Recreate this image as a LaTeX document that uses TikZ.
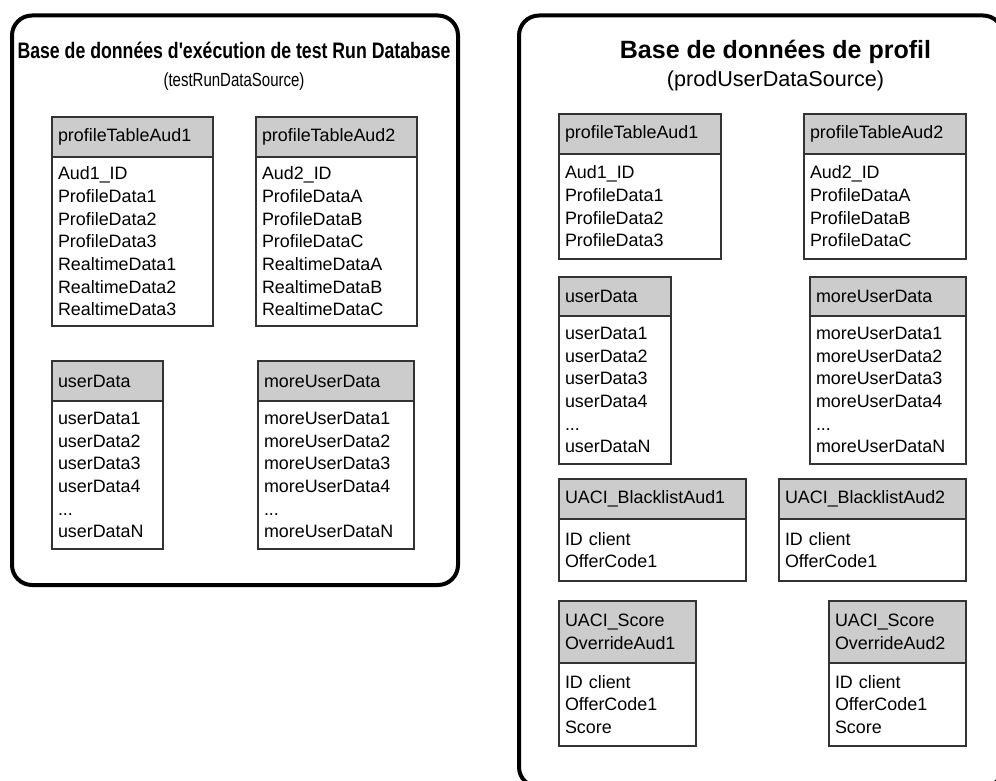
\documentclass[tikz,border=0pt]{standalone}
\usepackage{fontspec}
\setmainfont{Liberation Sans}
\newfontfamily\narrowfont{Liberation Sans}[FakeStretch=0.79]
\usetikzlibrary{positioning}

\tikzset{
  dbframe/.style={draw, line width=4pt, rounded corners=20pt, anchor=north west,
    inner sep=0pt, outer sep=0pt},
  tblhead/.style={draw=black!80, line width=1.3pt, fill=gray!40, anchor=north west,
    inner xsep=6pt, inner ysep=1pt, outer sep=0pt, align=left,
    font=\fontsize{17.9}{22.7}\selectfont},
  tblbody/.style={tblhead, fill=white},
}

\begin{document}
\begin{tikzpicture}[x=1pt, y=-1pt]
  \useasboundingbox (0,0) rectangle (996,781);
  \clip (0,0) rectangle (996,781);

  % the two databases
  \node[dbframe, minimum width=446pt, minimum height=569.5pt] (testdb) at (12,15.5) {};
  \node[dbframe, minimum width=484pt, minimum height=771.5pt] (proddb) at (519,15.5) {};

  \node[anchor=base, font=\narrowfont\bfseries\fontsize{22.4}{26}\selectfont] (testtitle) at (234,59)
    {Base de données d'exécution de test Run Database};
  \node[anchor=base, font=\narrowfont\fontsize{19}{23}\selectfont] (testsrc) at (234,87)
    {(testRunDataSource)};
  \node[anchor=base, font=\bfseries\fontsize{25}{29}\selectfont] (prodtitle) at (775.5,59)
    {Base de données de profil};
  \node[anchor=base, font=\fontsize{21.6}{25}\selectfont] (prodsrc) at (775.5,87)
    {(prodUserDataSource)};

  % tables of the test run database
  \node[tblhead, text width=149pt, minimum height=40pt] (tpa1) at (52,117) {profileTableAud1};
  \node[tblbody, text width=149pt, minimum height=169pt] (tpa1b) at (tpa1.south west)
    {Aud1\_ID\\ProfileData1\\ProfileData2\\ProfileData3\\RealtimeData1\\RealtimeData2\\RealtimeData3};
  \node[tblhead, text width=149pt, minimum height=40pt] (tpa2) at (256,117) {profileTableAud2};
  \node[tblbody, text width=149pt, minimum height=169pt] (tpa2b) at (tpa2.south west)
    {Aud2\_ID\\ProfileDataA\\ProfileDataB\\ProfileDataC\\RealtimeDataA\\RealtimeDataB\\RealtimeDataC};
  \node[tblhead, text width=99pt, minimum height=40pt] (tud) at (52,361) {userData};
  \node[tblbody, text width=99pt, minimum height=148pt] (tudb) at (tud.south west)
    {userData1\\userData2\\userData3\\userData4\\...\\userDataN};
  \node[tblhead, text width=144pt, minimum height=40pt] (tmud) at (258,361) {moreUserData};
  \node[tblbody, text width=144pt, minimum height=148pt] (tmudb) at (tmud.south west)
    {moreUserData1\\moreUserData2\\moreUserData3\\moreUserData4\\...\\moreUserDataN};

  % tables of the profile database
  \node[tblhead, text width=150pt, minimum height=40pt] (ppa1) at (559,114) {profileTableAud1};
  \node[tblbody, text width=150pt, minimum height=105pt] (ppa1b) at (ppa1.south west)
    {Aud1\_ID\\ProfileData1\\ProfileData2\\ProfileData3};
  \node[tblhead, text width=150pt, minimum height=40pt] (ppa2) at (804,114) {profileTableAud2};
  \node[tblbody, text width=150pt, minimum height=105pt] (ppa2b) at (ppa2.south west)
    {Aud2\_ID\\ProfileDataA\\ProfileDataB\\ProfileDataC};
  \node[tblhead, text width=100pt, minimum height=39pt] (pud) at (559,277) {userData};
  \node[tblbody, text width=100pt, minimum height=148pt] (pudb) at (pud.south west)
    {userData1\\userData2\\userData3\\userData4\\...\\userDataN};
  \node[tblhead, text width=144pt, minimum height=39pt] (pmud) at (810,277) {moreUserData};
  \node[tblbody, text width=144pt, minimum height=148pt] (pmudb) at (pmud.south west)
    {moreUserData1\\moreUserData2\\moreUserData3\\moreUserData4\\...\\moreUserDataN};
  \node[tblhead, text width=175pt, minimum height=40pt] (pbl1) at (559,479) {UACI\_BlacklistAud1};
  \node[tblbody, text width=175pt, minimum height=62pt] (pbl1b) at (pbl1.south west)
    {ID client\\OfferCode1};
  \node[tblhead, text width=175pt, minimum height=40pt] (pbl2) at (779,479) {UACI\_BlacklistAud2};
  \node[tblbody, text width=175pt, minimum height=62pt] (pbl2b) at (pbl2.south west)
    {ID client\\OfferCode1};
  \node[tblhead, text width=125pt, minimum height=62pt] (pso1) at (559,601) {UACI\_Score\\OverrideAud1};
  \node[tblbody, text width=125pt, minimum height=83pt] (pso1b) at (pso1.south west)
    {ID client\\OfferCode1\\Score};
  \node[tblhead, text width=125pt, minimum height=62pt] (pso2) at (829,601) {UACI\_Score\\OverrideAud2};
  \node[tblbody, text width=125pt, minimum height=83pt] (pso2b) at (pso2.south west)
    {ID client\\OfferCode1\\Score};
\end{tikzpicture}
\end{document}
